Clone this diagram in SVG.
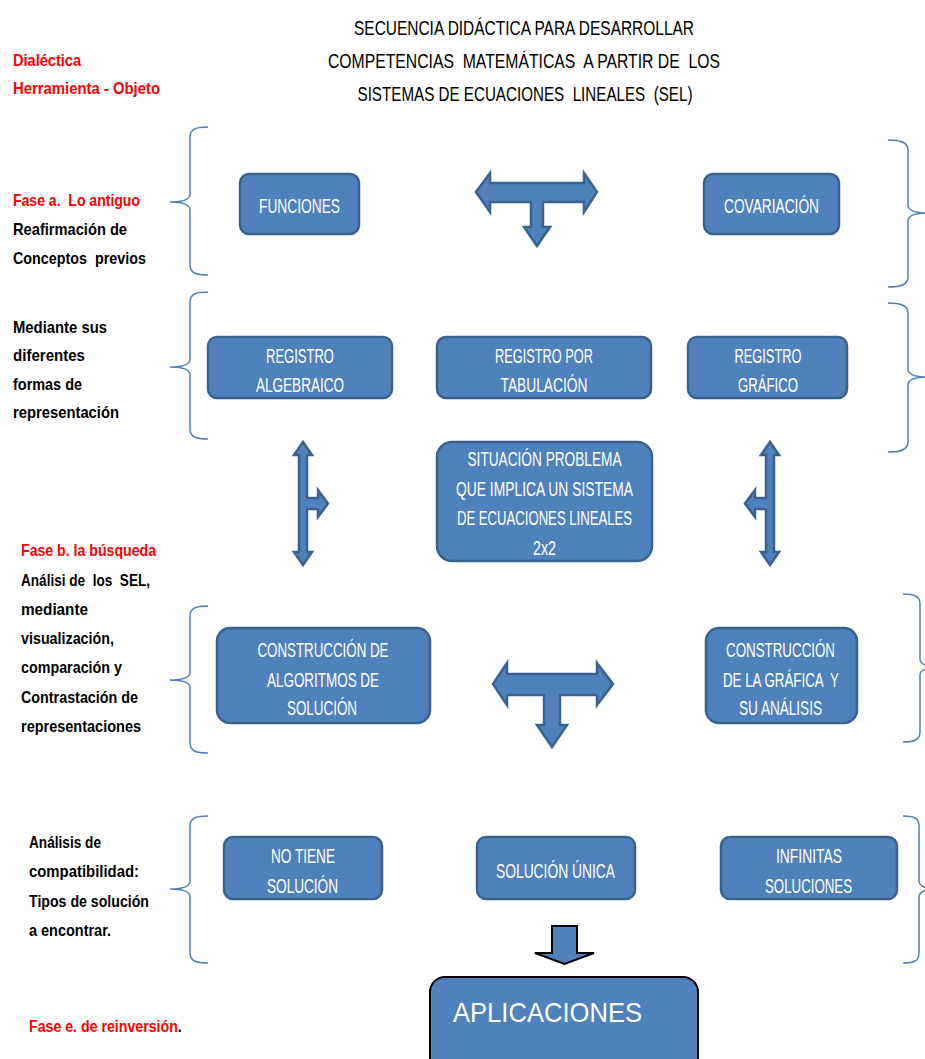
<svg xmlns="http://www.w3.org/2000/svg" width="925" height="1059" viewBox="0 0 925 1059">
<style>
text{white-space:pre}
.bx{fill:#4F81BD;stroke:#3A6190;stroke-width:2.5}
.bk{fill:#4F81BD;stroke:#000;stroke-width:2}
.ar{fill:#4F81BD;stroke:#3A6190;stroke-width:2.5;stroke-linejoin:miter}
.br{fill:none;stroke:#4F81BD;stroke-width:1.5}
.t{font-family:"Liberation Sans",Arial,sans-serif;font-size:19.5px;fill:#fff;text-anchor:middle}
.ti{font-family:"Liberation Sans",Arial,sans-serif;font-size:19.5px;fill:#000;text-anchor:middle}
.l{font-family:"Liberation Sans",Arial,sans-serif;font-size:17px;font-weight:bold;fill:#000}
.r{fill:#FF0000}
</style>
<rect width="925" height="1059" fill="#fff"/>
<g id="title">
<text class="ti" x="524" y="35" textLength="340" lengthAdjust="spacingAndGlyphs">SECUENCIA DIDÁCTICA PARA DESARROLLAR</text>
<text class="ti" x="524" y="68" textLength="392" lengthAdjust="spacingAndGlyphs">COMPETENCIAS  MATEMÁTICAS  A PARTIR DE  LOS</text>
<text class="ti" x="525" y="101" textLength="335" lengthAdjust="spacingAndGlyphs">SISTEMAS DE ECUACIONES  LINEALES  (SEL)</text>
</g>
<g id="left-labels">
<text class="l r" x="13" y="66" textLength="68" lengthAdjust="spacingAndGlyphs">Dialéctica</text>
<text class="l r" x="13" y="94" textLength="147" lengthAdjust="spacingAndGlyphs">Herramienta - Objeto</text>
<text class="l r" x="13" y="206" textLength="127" lengthAdjust="spacingAndGlyphs">Fase a.  Lo antiguo</text>
<text class="l" x="13" y="235" textLength="114" lengthAdjust="spacingAndGlyphs">Reafirmación de</text>
<text class="l" x="13" y="264" textLength="133" lengthAdjust="spacingAndGlyphs">Conceptos  previos</text>
<text class="l" x="13" y="333" textLength="94" lengthAdjust="spacingAndGlyphs">Mediante sus</text>
<text class="l" x="13" y="361" textLength="72" lengthAdjust="spacingAndGlyphs">diferentes</text>
<text class="l" x="13" y="390" textLength="69" lengthAdjust="spacingAndGlyphs">formas de</text>
<text class="l" x="13" y="418" textLength="106" lengthAdjust="spacingAndGlyphs">representación</text>
<text class="l r" x="21" y="556" textLength="135" lengthAdjust="spacingAndGlyphs">Fase b. la búsqueda</text>
<text class="l" x="21" y="586" textLength="129" lengthAdjust="spacingAndGlyphs">Análisi de  los  SEL,</text>
<text class="l" x="21" y="615" textLength="67" lengthAdjust="spacingAndGlyphs">mediante</text>
<text class="l" x="21" y="644" textLength="93" lengthAdjust="spacingAndGlyphs">visualización,</text>
<text class="l" x="21" y="673" textLength="101" lengthAdjust="spacingAndGlyphs">comparación y</text>
<text class="l" x="21" y="703" textLength="117" lengthAdjust="spacingAndGlyphs">Contrastación de</text>
<text class="l" x="21" y="732" textLength="120" lengthAdjust="spacingAndGlyphs">representaciones</text>
<text class="l" x="29" y="848" textLength="72" lengthAdjust="spacingAndGlyphs">Análisis de</text>
<text class="l" x="29" y="877" textLength="110" lengthAdjust="spacingAndGlyphs">compatibilidad:</text>
<text class="l" x="29" y="907" textLength="120" lengthAdjust="spacingAndGlyphs">Tipos de solución</text>
<text class="l" x="29" y="936" textLength="82" lengthAdjust="spacingAndGlyphs">a encontrar.</text>
<text class="l" transform="translate(29,1032) scale(0.834,1)"><tspan class="r">Fase e. de reinversión</tspan>.</text>
</g>
<g id="braces">
<path class="br" d="M208,127 C196,127 190,129 190,137 L190,194 C190,199 185,202 170,202 C185,202 190,205 190,210 L190,265 C190,273 196,275 208,275"/>
<path class="br" d="M208,292 C196,292 190,294 190,302 L190,359 C190,364 185,367 170,367 C185,367 190,370 190,375 L190,429 C190,437 196,439 208,439"/>
<path class="br" d="M208,606 C196,606 190,608 190,616 L190,672 C190,677 185,680 170,680 C185,680 190,683 190,688 L190,743 C190,751 196,753 208,753"/>
<path class="br" d="M208,816 C196,816 190,818 190,826 L190,881 C190,886 185,889 170,889 C185,889 190,892 190,897 L190,953 C190,961 196,963 208,963"/>
<path class="br" d="M888,140 C900,140 908,142 908,150 L908,205 C908,210 913,213 928,213 C913,213 908,216 908,221 L908,277 C908,285 900,287 888,287"/>
<path class="br" d="M888,303 C900,303 908,305 908,313 L908,369 C908,374 913,377 928,377 C913,377 908,380 908,385 L908,442 C908,450 900,452 888,452"/>
<path class="br" d="M903,594 C914,594 920,596 920,604 L920,659 C920,664 925,667 940,667 C925,667 920,670 920,675 L920,732 C920,740 914,742 903,742"/>
<path class="br" d="M903,816 C914,816 919,818 919,826 L919,881 C919,886 924,889 939,889 C924,889 919,892 919,897 L919,953 C919,961 914,963 903,963"/>
</g>
<g id="connectors">
<polygon class="ar" points="476,192 490,173 490,183 584,183 584,173 597,192 584,212 584,202 543,202 543,227 550,227 537,246 524,227 531,227 531,202 490,202 490,212"/>
<polygon class="ar" points="493,684 507,663 507,674 597,674 597,663 613,684 597,705 597,695 560,695 560,725 567,725 552,747 537,725 544,725 544,695 507,695 507,705"/>
<polygon class="ar" points="303,442 312,455 307,455 307,498 318,498 318,490 328,503.5 318,517 318,509 307,509 307,552 312,552 303,565 294,552 299,552 299,455 294,455"/>
<polygon class="ar" points="770,442 779,455 774,455 774,552 779,552 770,565 761,552 766,552 766,509 755,509 755,517 745,503.5 755,490 755,498 766,498 766,455 761,455"/>
<polygon class="bk" points="552,926 577,926 577,953 594,953 564.5,964 535,953 552,953"/>
</g>
<g id="n-funciones"><rect class="bx" x="240" y="174" width="119" height="60" rx="9"/><text class="t" x="299.5" y="213" textLength="81" lengthAdjust="spacingAndGlyphs">FUNCIONES</text></g>
<g id="n-covariacion"><rect class="bx" x="704" y="174" width="135" height="60" rx="9"/><text class="t" x="771.5" y="213" textLength="95" lengthAdjust="spacingAndGlyphs">COVARIACIÓN</text></g>
<g id="n-reg-alg"><rect class="bx" x="208" y="337" width="184" height="61" rx="9"/><text class="t" x="300" y="363" textLength="68" lengthAdjust="spacingAndGlyphs">REGISTRO</text><text class="t" x="300" y="392" textLength="88" lengthAdjust="spacingAndGlyphs">ALGEBRAICO</text></g>
<g id="n-reg-tab"><rect class="bx" x="437" y="337" width="214" height="61" rx="9"/><text class="t" x="544" y="363" textLength="98" lengthAdjust="spacingAndGlyphs">REGISTRO POR</text><text class="t" x="544" y="392" textLength="87" lengthAdjust="spacingAndGlyphs">TABULACIÓN</text></g>
<g id="n-reg-graf"><rect class="bx" x="688" y="337" width="159" height="61" rx="9"/><text class="t" x="768" y="363" textLength="67" lengthAdjust="spacingAndGlyphs">REGISTRO</text><text class="t" x="768" y="392" textLength="60" lengthAdjust="spacingAndGlyphs">GRÁFICO</text></g>
<g id="n-situacion"><rect class="bx" x="437" y="442" width="215" height="119" rx="15"/><text class="t" x="544.5" y="466" textLength="154" lengthAdjust="spacingAndGlyphs">SITUACIÓN PROBLEMA</text><text class="t" x="544.5" y="496" textLength="177" lengthAdjust="spacingAndGlyphs">QUE IMPLICA UN SISTEMA</text><text class="t" x="544.5" y="525" textLength="175" lengthAdjust="spacingAndGlyphs">DE ECUACIONES LINEALES</text><text class="t" x="544.5" y="555" textLength="23" lengthAdjust="spacingAndGlyphs">2x2</text></g>
<g id="n-algoritmos"><rect class="bx" x="217" y="628" width="213" height="95" rx="13"/><text class="t" x="323" y="657" textLength="131" lengthAdjust="spacingAndGlyphs">CONSTRUCCIÓN DE</text><text class="t" x="323" y="687" textLength="112" lengthAdjust="spacingAndGlyphs">ALGORITMOS DE</text><text class="t" x="322" y="715" textLength="70" lengthAdjust="spacingAndGlyphs">SOLUCIÓN</text></g>
<g id="n-grafica"><rect class="bx" x="706" y="628" width="151" height="95" rx="13"/><text class="t" x="780.5" y="657" textLength="109" lengthAdjust="spacingAndGlyphs">CONSTRUCCIÓN</text><text class="t" x="781" y="687" textLength="116" lengthAdjust="spacingAndGlyphs">DE LA GRÁFICA  Y</text><text class="t" x="780.5" y="715" textLength="83" lengthAdjust="spacingAndGlyphs">SU ANÁLISIS</text></g>
<g id="n-no-tiene"><rect class="bx" x="224" y="837" width="158" height="62" rx="9"/><text class="t" x="303" y="863" textLength="64" lengthAdjust="spacingAndGlyphs">NO TIENE</text><text class="t" x="302.5" y="893" textLength="71" lengthAdjust="spacingAndGlyphs">SOLUCIÓN</text></g>
<g id="n-unica"><rect class="bx" x="477" y="837" width="158" height="62" rx="9"/><text class="t" x="555.5" y="878" textLength="119" lengthAdjust="spacingAndGlyphs">SOLUCIÓN ÚNICA</text></g>
<g id="n-infinitas"><rect class="bx" x="721" y="837" width="176" height="62" rx="9"/><text class="t" x="809" y="863" textLength="66" lengthAdjust="spacingAndGlyphs">INFINITAS</text><text class="t" x="808.5" y="893" textLength="87" lengthAdjust="spacingAndGlyphs">SOLUCIONES</text></g>
<g id="n-aplicaciones"><rect class="bk" x="430" y="977" width="268" height="100" rx="15"/><text x="453" y="1022" font-family="Liberation Sans, Arial, sans-serif" font-size="28" fill="#fff" textLength="189" lengthAdjust="spacingAndGlyphs">APLICACIONES</text></g>
</svg>
